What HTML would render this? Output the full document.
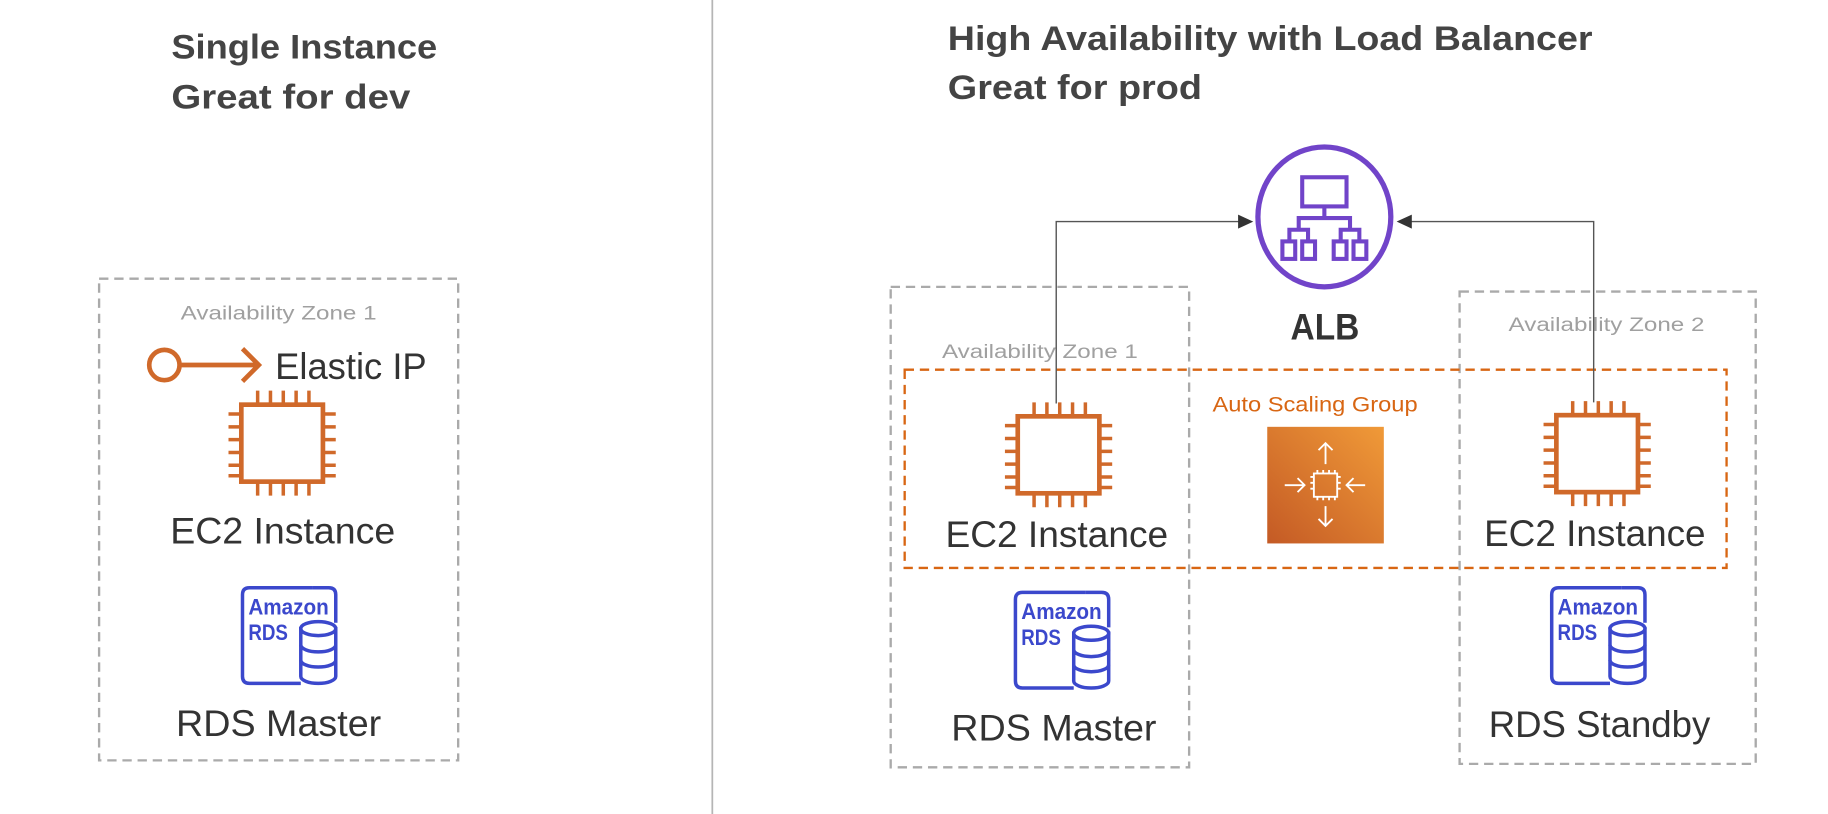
<!DOCTYPE html>
<html><head><meta charset="utf-8"><style>
html,body{margin:0;padding:0;background:#fff;}
svg{display:block;}
text{font-family:"Liberation Sans",sans-serif;}
</style></head><body>
<svg width="1828" height="814" viewBox="0 0 1568 698" preserveAspectRatio="none" xmlns="http://www.w3.org/2000/svg">
<defs>
<g id="chip" fill="none" stroke="#d0692a" stroke-width="4">
<rect x="0" y="0" width="70" height="66" fill="#fff"/>
<path d="M14 0V-12M25 0V-12M36 0V-12M47 0V-12M58 0V-12M14 66V78M25 66V78M36 66V78M47 66V78M58 66V78M0 8H-11M0 19H-11M0 30H-11M0 41H-11M0 52H-11M0 61H-11M70 8H81M70 19H81M70 30H81M70 41H81M70 52H81M70 61H81" stroke-width="3"/>
</g>
<g id="rds">
<path d="M60 0H6Q0 0 0 6V76Q0 82 6 82H50" fill="none" stroke="#3b48cc" stroke-width="3"/>
<path d="M80 30V6Q80 0 74 0H60" fill="none" stroke="#3b48cc" stroke-width="3"/>
<text x="5" y="23" font-size="19" font-weight="bold" fill="#3b48cc" textLength="69" lengthAdjust="spacingAndGlyphs">Amazon</text>
<text x="5" y="45" font-size="19" font-weight="bold" fill="#3b48cc" textLength="34" lengthAdjust="spacingAndGlyphs">RDS</text>
<g fill="#fff" stroke="#3b48cc" stroke-width="3">
<path d="M50 35V76A15 6 0 0 0 80 76V35Z"/>
<ellipse cx="65" cy="35" rx="15" ry="6"/>
<path d="M50 49A15 6 0 0 0 80 49M50 62A15 6 0 0 0 80 62" fill="none"/>
</g>
</g>
<linearGradient id="asg" x1="0" y1="1" x2="1" y2="0">
<stop offset="0" stop-color="#c45a25"/><stop offset="1" stop-color="#f09a38"/>
</linearGradient>
</defs>

<line x1="611" y1="0" x2="611" y2="698" stroke="#b5b5b5" stroke-width="1.5"/>

<text x="147" y="50" font-size="29" font-weight="bold" fill="#444" textLength="228" lengthAdjust="spacingAndGlyphs">Single Instance</text>
<text x="147" y="93" font-size="29" font-weight="bold" fill="#444" textLength="205" lengthAdjust="spacingAndGlyphs">Great for dev</text>
<text x="813" y="43" font-size="29" font-weight="bold" fill="#444" textLength="553" lengthAdjust="spacingAndGlyphs">High Availability with Load Balancer</text>
<text x="813" y="85" font-size="29" font-weight="bold" fill="#444" textLength="218" lengthAdjust="spacingAndGlyphs">Great for prod</text>

<rect x="85" y="239" width="308" height="413" fill="none" stroke="#aaa" stroke-width="2" stroke-dasharray="8 5"/>
<text x="155" y="274" font-size="17" fill="#a0a0a0" textLength="168" lengthAdjust="spacingAndGlyphs">Availability Zone 1</text>
<circle cx="141" cy="313" r="13" fill="none" stroke="#d0692a" stroke-width="4"/>
<path d="M154 313H221M208 299L222 313L208 327" fill="none" stroke="#d0692a" stroke-width="4"/>
<text x="236" y="325" font-size="32" fill="#333" textLength="130" lengthAdjust="spacingAndGlyphs">Elastic IP</text>
<use href="#chip" x="207" y="347"/>
<text x="146" y="466" font-size="32" fill="#333" textLength="193" lengthAdjust="spacingAndGlyphs">EC2 Instance</text>
<use href="#rds" x="208" y="504"/>
<text x="151" y="631" font-size="32" fill="#333" textLength="176" lengthAdjust="spacingAndGlyphs">RDS Master</text>

<rect x="764" y="246" width="256" height="412" fill="none" stroke="#aaa" stroke-width="2" stroke-dasharray="8 5"/>
<rect x="1252" y="250" width="254" height="405" fill="none" stroke="#aaa" stroke-width="2" stroke-dasharray="8 5"/>
<text x="808" y="307" font-size="17" fill="#a0a0a0" textLength="168" lengthAdjust="spacingAndGlyphs">Availability Zone 1</text>
<text x="1294" y="284" font-size="17" fill="#a0a0a0" textLength="168" lengthAdjust="spacingAndGlyphs">Availability Zone 2</text>

<rect x="776" y="317" width="705" height="170" fill="none" stroke="#d86613" stroke-width="2" stroke-dasharray="8 5"/>
<text x="1040" y="353" font-size="18" fill="#d86613" textLength="176" lengthAdjust="spacingAndGlyphs">Auto Scaling Group</text>
<rect x="1087" y="366" width="100" height="100" fill="url(#asg)"/>
<g stroke="#fff" stroke-width="1.6" fill="none">
<rect x="1127" y="406" width="20" height="20"/>
<path d="M1130 406v-3M1135 406v-3M1140 406v-3M1145 406v-3M1130 426v3M1135 426v3M1140 426v3M1145 426v3M1127 409h-3M1127 414h-3M1127 419h-3M1147 409h3M1147 414h3M1147 419h3"/>
<path d="M1137 398V380M1131 386L1137 380L1143 386M1137 434V451M1131 445L1137 451L1143 445M1102 416H1119M1113 410L1119 416L1113 422M1171 416H1155M1161 410L1155 416L1161 422"/>
</g>

<path d="M906 346V190H1066" fill="none" stroke="#555" stroke-width="1.2"/>
<path d="M1075 190L1062 184V196Z" fill="#333"/>
<path d="M1367 345V190H1207" fill="none" stroke="#555" stroke-width="1.2"/>
<path d="M1198 190L1211 184V196Z" fill="#333"/>

<ellipse cx="1136" cy="186" rx="57" ry="60" fill="#fff" stroke="#7144c9" stroke-width="4.5"/>
<g fill="none" stroke="#7144c9" stroke-width="3.5">
<rect x="1117" y="152" width="38" height="25"/>
<path d="M1136 177V187M1114 197V187H1158V197M1106 207V197H1122V207M1150 207V197H1166V207"/>
<rect x="1100" y="207" width="11" height="15"/><rect x="1117" y="207" width="11" height="15"/>
<rect x="1144" y="207" width="11" height="15"/><rect x="1161" y="207" width="11" height="15"/>
</g>
<text x="1107" y="291" font-size="32" font-weight="bold" fill="#333" textLength="59" lengthAdjust="spacingAndGlyphs">ALB</text>

<use href="#chip" x="873" y="357"/>
<text x="811" y="469" font-size="32" fill="#333" textLength="191" lengthAdjust="spacingAndGlyphs">EC2 Instance</text>
<use href="#chip" x="1335" y="356"/>
<text x="1273" y="468" font-size="32" fill="#333" textLength="190" lengthAdjust="spacingAndGlyphs">EC2 Instance</text>

<use href="#rds" x="871" y="508"/>
<text x="816" y="635" font-size="32" fill="#333" textLength="176" lengthAdjust="spacingAndGlyphs">RDS Master</text>
<use href="#rds" x="1331" y="504"/>
<text x="1277" y="632" font-size="32" fill="#333" textLength="190" lengthAdjust="spacingAndGlyphs">RDS Standby</text>
</svg>
</body></html>
